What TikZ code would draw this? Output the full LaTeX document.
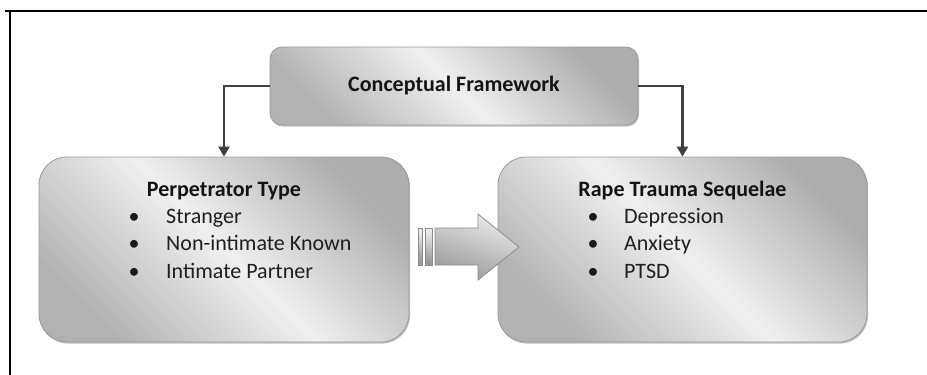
\documentclass[tikz,border=0pt]{standalone}
\usepackage{fontspec}
\setmainfont{Carlito}
\usetikzlibrary{arrows.meta,shadows}
\begin{document}
\begin{tikzpicture}[x=1pt,y=-1pt,
  panel/.style={rectangle, rounded corners=#1, draw=black!40, line width=0.8pt,
    top color=black!32, bottom color=black!30, middle color=black!6,
    shading angle=-45, inner sep=0pt,
    drop shadow={shadow xshift=1pt, shadow yshift=-1.6pt, opacity=0.35, fill=black!70}},
  link/.style={draw=black!75, line width=2.4pt, -{Triangle[width=11pt,length=10pt]}},
  heading/.style={font=\bfseries\fontsize{22}{26}\selectfont, text=black!92, inner sep=0pt},
  item/.style={font=\fontsize{22}{26}\selectfont, text=black!88, inner sep=0pt, anchor=base west},
  dot/.style={font=\fontsize{22}{26}\selectfont, text=black!90, inner sep=0pt, anchor=base},
  flow/.style={draw=black!45, line width=0.8pt, top color=black!8, bottom color=black!40, shading angle=-20},
]
\useasboundingbox (0,0) rectangle (927,375);

% frame edges
\draw[line width=1.3pt] (5,11) -- (927,11);
\draw[line width=1.3pt] (10,11) -- (10,375);

% boxes
\node[panel=12pt, minimum width=368pt, minimum height=78pt, heading] (cf) at (454,86) {Conceptual Framework};
\node[panel=28pt, minimum width=370pt, minimum height=185pt] (pt) at (224,249.5) {};
\node[panel=28pt, minimum width=369pt, minimum height=185pt] (rts) at (682.5,249.5) {};

% connectors from the framework box
\draw[link] (cf.west) -| (pt.north);
\draw[link] (cf.east) -| (rts.north);

% left box text
\node[heading, anchor=base] (ptt) at (224,196) {Perpetrator Type};
\node[dot] (pb1) at (134,223) {•};
\node[dot] (pb2) at (134,250.5) {•};
\node[dot] (pb3) at (134,278) {•};
\node[item] (pi1) at (166,223) {Stranger};
\node[item] (pi2) at (166,250.5) {Non-intimate Known};
\node[item] (pi3) at (166,278) {Intimate Partner};

% right box text
\node[heading, anchor=base] (rtt) at (682.5,196) {Rape Trauma Sequelae};
\node[dot] (rb1) at (593,223) {•};
\node[dot] (rb2) at (593,250.5) {•};
\node[dot] (rb3) at (593,278) {•};
\node[item] (ri1) at (624,223) {Depression};
\node[item] (ri2) at (624,250.5) {Anxiety};
\node[item] (ri3) at (624,278) {PTSD};

% striped block arrow between the boxes
\draw[flow] (418.5,228) rectangle (422,265);
\draw[flow] (425,228) rectangle (432,265);
\draw[flow] (435,228) -- (478,228) -- (478,214) -- (519,247) -- (478,280) -- (478,265) -- (435,265) -- cycle;
\end{tikzpicture}
\end{document}
